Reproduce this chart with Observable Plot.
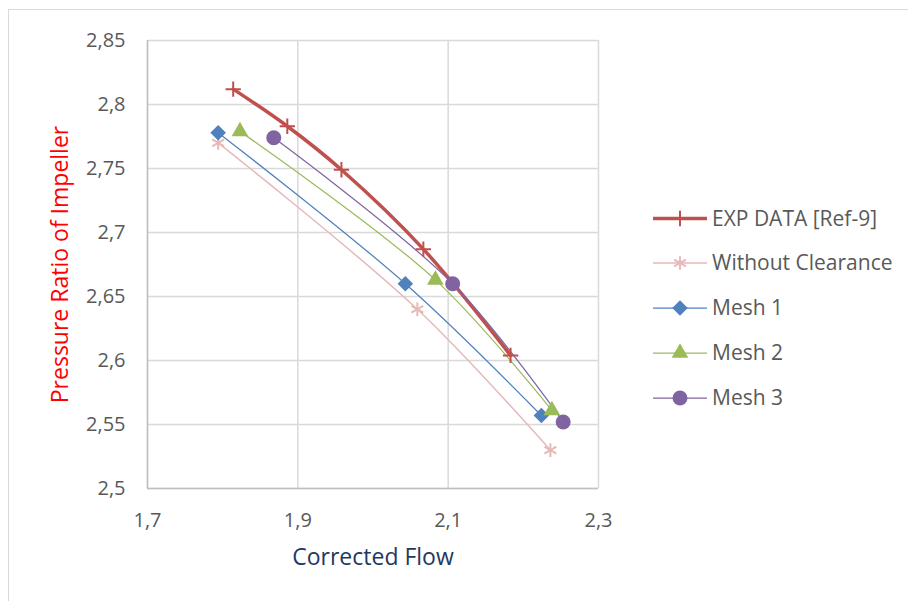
<!DOCTYPE html>
<html>
<head>
<meta charset="utf-8">
<script src="https://cdn.jsdelivr.net/npm/d3@7"></script>
<script src="https://cdn.jsdelivr.net/npm/@observablehq/plot@0.6"></script>
<style>
  html, body { margin: 0; padding: 0; background: #fff; }
  #wrap { position: relative; width: 908px; height: 601px; overflow: hidden; }
  #border { position: absolute; left: 8px; top: 9px; width: 1000px; height: 700px; border: 1.5px solid #d9d9d9; box-sizing: border-box; }
  #chart { position: absolute; left: 0; top: 0; }
</style>
</head>
<body>
<div id="wrap"><div id="border"></div><div id="chart"></div></div>
<script>
// ---- data ----
const seriesNames = ["EXP DATA [Ref-9]", "Without Clearance", "Mesh 1", "Mesh 2", "Mesh 3"];
const expFlow = [1.814, 1.886, 1.958, 2.067, 2.183];
const expRatio = [2.812, 2.783, 2.749, 2.687, 2.604];
const noClearFlow = [1.794, 2.059, 2.236];
const noClearRatio = [2.770, 2.640, 2.530];
const mesh1Flow = [1.794, 2.043, 2.224];
const mesh1Ratio = [2.778, 2.660, 2.557];
const mesh2Flow = [1.823, 2.083, 2.238];
const mesh2Ratio = [2.779, 2.663, 2.561];
const mesh3Flow = [1.868, 2.106, 2.253];
const mesh3Ratio = [2.774, 2.660, 2.552];
const xTicks = [1.7, 1.9, 2.1, 2.3];
const xTickLabels = ["1,7", "1,9", "2,1", "2,3"];
const yTicks = [2.5, 2.55, 2.6, 2.65, 2.7, 2.75, 2.8, 2.85];
const yTickLabels = ["2,5", "2,55", "2,6", "2,65", "2,7", "2,75", "2,8", "2,85"];
const xTitle = "Corrected Flow";
const yTitle = "Pressure Ratio of Impeller";

// ---- styles ----
const styles = [
  {stroke: "#c0504d", width: 3.5, symbol: "plus", fill: "none", r: 5, symStroke: 2},
  {stroke: "#e6b9b8", width: 1.5, symbol: "asterisk", fill: "none", r: 6.5, symStroke: 2},
  {stroke: "#4f81bd", width: 1.25, symbol: "diamond2", fill: "#4f81bd", r: 7, symStroke: 0},
  {stroke: "#9bbb59", width: 1.25, symbol: "triangle", fill: "#9bbb59", r: 6.2, symStroke: 0},
  {stroke: "#8064a2", width: 1.25, symbol: "circle", fill: "#8064a2", r: 7.5, symStroke: 0}
];
const flows = [expFlow, noClearFlow, mesh1Flow, mesh2Flow, mesh3Flow];
const ratios = [expRatio, noClearRatio, mesh1Ratio, mesh2Ratio, mesh3Ratio];
const tables = flows.map((f, i) => f.map((x, j) => ({series: seriesNames[i], flow: x, ratio: ratios[i][j]})));

const font = "'Open Sans', 'Noto Sans', sans-serif";
const tickColor = "#595959";
const gridColor = "#d9d9d9";

const marks = [
  Plot.gridX(xTicks, {stroke: gridColor, strokeOpacity: 1, strokeWidth: 1.5}),
  Plot.gridY(yTicks, {stroke: gridColor, strokeOpacity: 1, strokeWidth: 1.5}),
  Plot.ruleX([1.7], {stroke: "#bfbfbf", strokeWidth: 1.5}),
  Plot.ruleY([2.5], {stroke: "#bfbfbf", strokeWidth: 1.5}),
  Plot.axisX(xTicks, {tickSize: 0, tickPadding: 24, fontSize: 20, fill: tickColor, label: null,
    tickFormat: d => xTickLabels[xTicks.indexOf(d)]}),
  Plot.axisY(yTicks, {tickSize: 0, tickPadding: 22, fontSize: 20, fill: tickColor, label: null,
    tickFormat: d => yTickLabels[yTicks.indexOf(d)]}),
  Plot.text([xTitle], {frameAnchor: "bottom", dy: 76, text: d => d, fontSize: 23, fill: "#1f3864", textAnchor: "middle"}),
  Plot.text([yTitle], {frameAnchor: "left", dx: -87, rotate: -90, text: d => d, fontSize: 23, fill: "#ff0000", textAnchor: "middle"})
];
// draw order: Without Clearance, Mesh1, Mesh2, EXP, Mesh3
const order = [1, 2, 3, 0, 4];
for (const i of order) {
  const s = styles[i];
  marks.push(Plot.line(tables[i], {x: "flow", y: "ratio", stroke: s.stroke, strokeWidth: s.width, curve: "catmull-rom"}));
}
for (const i of order) {
  const s = styles[i];
  marks.push(Plot.dot(tables[i], {x: "flow", y: "ratio", symbol: () => s.symbol, r: s.r,
    fill: s.fill === "none" ? "none" : s.fill,
    stroke: s.symStroke ? s.stroke : "none", strokeWidth: s.symStroke || 0}));
}

const plot = Plot.plot({
  width: 908, height: 601,
  marginLeft: 147, marginRight: 310, marginTop: 40, marginBottom: 113,
  style: {fontFamily: font, background: "transparent", overflow: "visible"},
  x: {domain: [1.7, 2.3], axis: null},
  y: {domain: [2.5, 2.85], axis: null},
  symbol: {type: "identity"},
  marks
});
document.getElementById("chart").appendChild(plot);

// ---- legend ----
const svg = d3.select(plot);
const lg = svg.append("g").attr("font-family", font).attr("text-anchor", "start");
const rowY = [218.5, 263, 308, 353, 398];
const symMap = {plus: d3.symbolPlus, asterisk: d3.symbolAsterisk, diamond2: d3.symbolDiamond2, triangle: d3.symbolTriangle, circle: d3.symbolCircle};
seriesNames.forEach((name, i) => {
  const s = styles[i];
  const y = rowY[i];
  lg.append("line").attr("x1", 653).attr("x2", 707).attr("y1", y).attr("y2", y)
    .attr("stroke", s.stroke).attr("stroke-width", s.width);
  lg.append("path").attr("transform", `translate(680,${y})`)
    .attr("d", d3.symbol(symMap[s.symbol], Math.PI * s.r * s.r)())
    .attr("fill", s.fill).attr("stroke", s.symStroke ? s.stroke : "none").attr("stroke-width", s.symStroke || 0);
  lg.append("text").attr("x", 712).attr("y", y).attr("dy", "0.35em")
    .attr("text-anchor", "start")
    .attr("font-size", 21).attr("fill", tickColor).text(name);
});
</script>
</body>
</html>
